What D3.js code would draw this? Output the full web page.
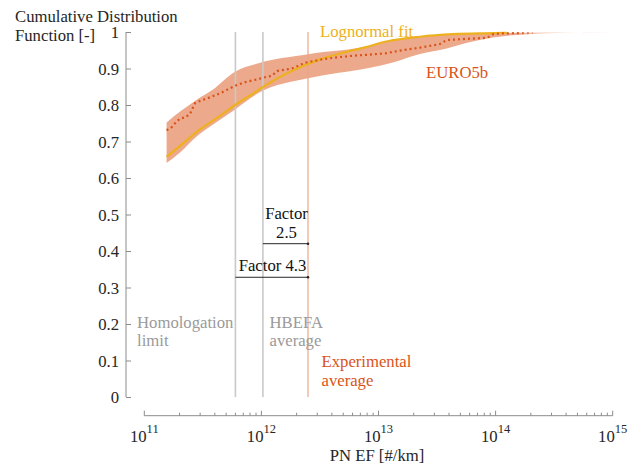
<!DOCTYPE html>
<html><head><meta charset="utf-8">
<script src="https://cdn.jsdelivr.net/npm/d3@7"></script>
<style>body{margin:0;background:#fff;}</style></head>
<body><svg id="c" width="641" height="468" font-family="Liberation Serif"></svg>
<script>
// ---- data ----
const lognormX = [1.55e11,2.02e11,2.99e11,4.43e11,5.96e11,8.0e11,1.04e12,1.59e12,2.44e12,3.16e12,4.69e12,7.67e12,1.17e13,2.26e13,4.32e13,9.5e13,1.25e14];
const lognormY = [0.658,0.688,0.733,0.770,0.800,0.826,0.850,0.884,0.911,0.925,0.941,0.958,0.974,0.987,0.994,0.997,0.998];

const euroX = [1.55e11,1.69e11,1.83e11,2.02e11,2.23e11,2.45e11,2.71e11,2.99e11,3.64e11,4.43e11,5.40e11,6.19e11,7.53e11,9.16e11,1.07e12,1.23e12,1.36e12,1.59e12,1.82e12,2.05e12,2.36e12,2.86e12,3.28e12,4.50e12,6.05e12,8.45e12,1.17e13,1.52e13,2.26e13,3.35e13,3.82e13,5.48e13,8.45e13,9.55e13,1.09e14,1.61e14,2.08e14];
const euroY = [0.731,0.737,0.750,0.763,0.766,0.775,0.805,0.811,0.821,0.832,0.846,0.855,0.864,0.870,0.876,0.880,0.893,0.897,0.900,0.907,0.916,0.921,0.925,0.931,0.935,0.938,0.942,0.949,0.957,0.967,0.978,0.981,0.984,0.994,0.996,0.997,0.997];

const bandX = [1.55e11,2.02e11,2.78e11,3.81e11,5.96e11,9.6e11,2.50e12,8.45e12,1.30e13,2.26e13,3.82e13,5.6e13,9.5e13,1.85e14,3.4e14,1.0e15];
const bandHi = [0.752,0.782,0.814,0.841,0.891,0.915,0.939,0.962,0.978,0.988,0.993,0.995,0.997,0.998,0.999,1.0];
const bandLo = [0.641,0.670,0.713,0.745,0.788,0.834,0.873,0.902,0.916,0.940,0.955,0.970,0.985,0.994,0.997,0.999];

const refNames = ["Homologation","HBEFA","Experimental"];
const refValues = [6.0e11, 1.03e12, 2.5e12];
const factorLabels = ["2.5","4.3"];
const factorFrom = [1.03e12, 6.0e11];
const factorTo = [2.5e12, 2.5e12];
const factorLevel = [0.42, 0.328];

const yTicks = [0,0.1,0.2,0.3,0.4,0.5,0.6,0.7,0.8,0.9,1];
const xMajor = [1e11,1e12,1e13,1e14,1e15];
const xExp = ["11","12","13","14","15"];

// ---- scales ----
const FONT = "Liberation Serif";
const FS = 16.7;
const svg = d3.select("#c");
const x = d3.scaleLog().domain([1e11,1e15]).range([144.3,612.7]);
const y = d3.scaleLinear().domain([0,1]).range([397,32]);

const ORANGE = "#D95319", YELLOW = "#EDB120";

const defs = svg.append("defs");
const g1 = defs.append("linearGradient").attr("id","fade").attr("gradientUnits","userSpaceOnUse")
  .attr("x1",144).attr("x2",615).attr("y1",0).attr("y2",0);
function off(px){return ((px-144)/(615-144)*100)+"%";}
[[144,1],[518,1],[578,0],[582,0],[584,0.45],[612,0]].forEach(([p,o])=>{
  g1.append("stop").attr("offset",off(p)).attr("stop-color",ORANGE).attr("stop-opacity",o*0.5);
});
const g2 = defs.append("linearGradient").attr("id","fadeLine").attr("gradientUnits","userSpaceOnUse")
  .attr("x1",144).attr("x2",615).attr("y1",0).attr("y2",0);
[[144,1],[515,1],[545,0],[615,0]].forEach(([p,o])=>{
  g2.append("stop").attr("offset",off(p)).attr("stop-color",ORANGE).attr("stop-opacity",o);
});

// band
const bandData = bandX.map((v,i)=>({x:v,lo:bandLo[i],hi:bandHi[i]}));
svg.append("path").datum(bandData)
  .attr("d", d3.area().x(d=>x(d.x)).y0(d=>y(d.lo)).y1(d=>y(d.hi)).curve(d3.curveMonotoneX))
  .attr("fill","url(#fade)");

// reference lines
const refColors = ["#c9c9c9","#c9c9c9","#eba58a"];
refValues.forEach((v,i)=>{
  svg.append("line").attr("x1",x(v)).attr("x2",x(v)).attr("y1",y(0)).attr("y2",y(1))
    .attr("stroke",refColors[i]).attr("stroke-width",i==2?1.2:1.6);
});

// lognormal fit
svg.append("path").datum(lognormX.map((v,i)=>[v,lognormY[i]]))
  .attr("d", d3.line().x(d=>x(d[0])).y(d=>y(d[1])).curve(d3.curveMonotoneX))
  .attr("fill","none").attr("stroke",YELLOW).attr("stroke-width",2.2);

// EURO5b dotted
svg.append("path").datum(euroX.map((v,i)=>[v,euroY[i]]))
  .attr("d", d3.line().x(d=>x(d[0])).y(d=>y(d[1])))
  .attr("fill","none").attr("stroke","url(#fadeLine)").attr("stroke-width",2.2)
  .attr("stroke-dasharray","2,3");

// y axis
const ya = svg.append("g").attr("transform","translate(126,0)")
  .call(d3.axisLeft(y).tickValues(yTicks).tickSizeInner(-5).tickSizeOuter(0).tickPadding(7)
    .tickFormat(d=>d===0?"0":d===1?"1":d3.format(".1f")(d)));
ya.attr("font-family",FONT).attr("font-size",FS);
ya.select(".domain").attr("stroke","#8c8c8c").attr("d","M0,"+y(0)+"V"+y(1));
ya.selectAll(".tick line").attr("stroke","#8c8c8c");
ya.selectAll(".tick text").attr("fill","#262626").attr("dy","0.33em");

// x axis
const minor = [];
for(let e=11;e<15;e++) for(let k=2;k<=9;k++) minor.push(k*Math.pow(10,e));
const xa = svg.append("g").attr("transform","translate(0,415.7)");
xa.append("line").attr("x1",x(1e11)).attr("x2",x(1e15)).attr("stroke","#8c8c8c");
xa.selectAll(".mj").data(xMajor).enter().append("line")
  .attr("x1",d=>x(d)).attr("x2",d=>x(d)).attr("y1",0).attr("y2",-5).attr("stroke","#8c8c8c");
xa.selectAll(".mn").data(minor).enter().append("line")
  .attr("x1",d=>x(d)).attr("x2",d=>x(d)).attr("y1",0).attr("y2",-3).attr("stroke","#8c8c8c");
const lbl = xa.selectAll(".lb").data(xMajor).enter().append("text")
  .attr("x",d=>x(d)).attr("y",26).attr("text-anchor","middle").attr("font-size",FS).attr("fill","#262626");
lbl.append("tspan").text("10");
lbl.append("tspan").attr("dy",-8.5).attr("font-size",12.5).text((d,i)=>xExp[i]);

svg.append("text").attr("x",377).attr("y",461).attr("text-anchor","middle")
  .attr("font-size",FS).attr("fill","#262626").text("PN EF [#/km]");

const yl = svg.append("text").attr("font-size",FS).attr("fill","#262626");
yl.append("tspan").attr("x",15).attr("y",22).text("Cumulative Distribution");
yl.append("tspan").attr("x",15).attr("y",41).text("Function [-]");

svg.append("text").attr("x",320).attr("y",36.5).attr("font-size",FS).attr("fill",YELLOW).text("Lognormal fit");
svg.append("text").attr("x",426).attr("y",77.5).attr("font-size",FS).attr("fill",ORANGE).text("EURO5b");

const refLbl = [["Homologation","limit"],["HBEFA","average"],["Experimental","average"]];
const refLblX = [137, 269.5, 321.5];
const refLblY = [327.5, 327.5, 367];
const refLblC = ["#9a9a9a","#9a9a9a",ORANGE];
refLbl.forEach((ls,i)=>{
  const t = svg.append("text").attr("font-size",FS).attr("fill",refLblC[i]);
  ls.forEach((s,j)=>t.append("tspan").attr("x",refLblX[i]).attr("y",refLblY[i]+j*18.5).text(s));
});

factorLabels.forEach((f,i)=>{
  const x1 = x(factorFrom[i]), x2 = x(factorTo[i]), yy = y(factorLevel[i]);
  svg.append("line").attr("x1",x1).attr("x2",x2).attr("y1",yy).attr("y2",yy).attr("stroke","#262626").attr("stroke-width",1);
  svg.append("circle").attr("cx",x2).attr("cy",yy).attr("r",1.3).attr("fill","#262626");
});
const f1 = svg.append("text").attr("font-size",FS).attr("fill","#111").attr("text-anchor","middle");
f1.append("tspan").attr("x",286.5).attr("y",219).text("Factor");
f1.append("tspan").attr("x",286.5).attr("y",237.5).text(factorLabels[0]);
svg.append("text").attr("font-size",FS).attr("fill","#111").attr("text-anchor","middle")
  .attr("x",272.5).attr("y",271).text("Factor " + factorLabels[1]);
svg.selectAll("text").attr("font-family",FONT);
</script></body></html>
